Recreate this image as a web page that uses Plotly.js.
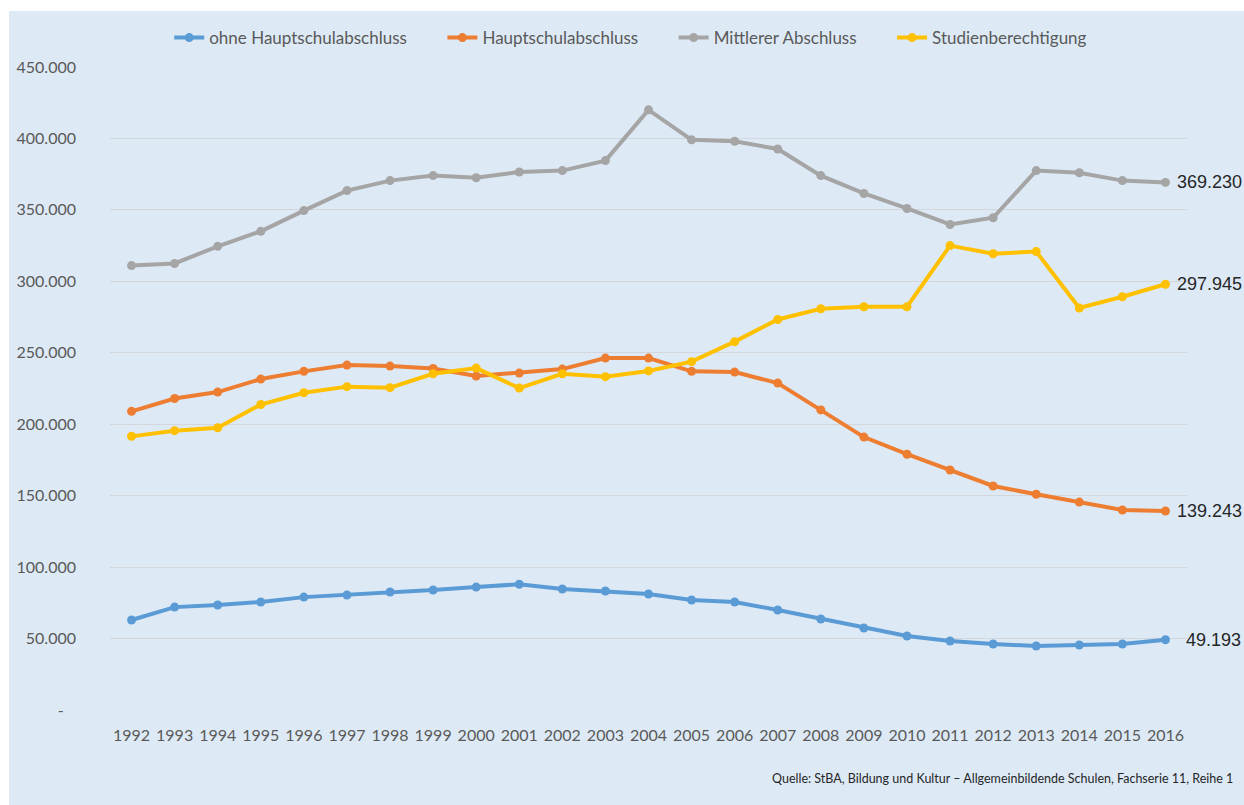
<!DOCTYPE html>
<html>
<head>
<meta charset="utf-8">
<script src="https://cdn.plot.ly/plotly-3.0.1.min.js"></script>
<style>
  html, body { margin: 0; padding: 0; background: #ffffff; }
  #chart { position: absolute; left: 9px; top: 11px; width: 1235px; height: 794px; }
</style>
</head>
<body>
<div id="chart"></div>
<script>
// ---- data ----
const years = [1992,1993,1994,1995,1996,1997,1998,1999,2000,2001,2002,2003,2004,2005,2006,2007,2008,2009,2010,2011,2012,2013,2014,2015,2016];

const seriesNames = ["ohne Hauptschulabschluss", "Hauptschulabschluss", "Mittlerer Abschluss", "Studienberechtigung"];

const ohneHauptschulabschluss = [63000,72000,73500,75600,79000,80500,82600,84000,86000,88000,84700,83300,81200,77000,75600,70000,63700,57400,51800,48300,46200,44800,45500,46200,49193];

const hauptschulabschluss = [209000,218000,222500,231600,237000,241400,240700,239000,233700,235800,238600,246300,246300,237000,236500,228800,210000,191000,179000,168000,156800,151000,145500,140000,139243];

const mittlererAbschluss = [311000,312500,324500,335000,349500,363500,370500,374000,372500,376500,377500,384500,420000,399000,398000,392600,374000,361500,351000,339800,344500,377500,376000,370500,369230];

const studienberechtigung = [191500,195500,197500,213800,222000,226300,225600,235300,239300,225300,235300,233300,237300,243800,257800,273300,280800,282200,282200,325000,319300,320800,281300,289200,297945];

const yTickVals = [0,50000,100000,150000,200000,250000,300000,350000,400000,450000];

const sourceText = "Quelle: StBA, Bildung und Kultur \u2013 Allgemeinbildende Schulen, Fachserie 11, Reihe 1";

// ---- styling ----
const colors = ["#5B9BD5", "#ED7D31", "#A5A5A5", "#FFC000"];
const allSeries = [ohneHauptschulabschluss, hauptschulabschluss, mittlererAbschluss, studienberechtigung];
const labelShift = [19, 10, 10, 10];
const legendPad = "\u00a0\u00a0\u00a0\u00a0\u00a0\u00a0\u00a0";

function fmtDE(v) {
  if (v === 0) return "-\u00a0\u00a0\u00a0";
  const s = Math.round(v).toString();
  return s.replace(/\B(?=(\d{3})+(?!\d))/g, ".");
}

const traces = allSeries.map((vals, i) => ({
  type: "scatter",
  mode: "lines+markers",
  name: seriesNames[i] + legendPad,
  x: years,
  y: vals,
  line: { color: colors[i], width: 4 },
  marker: { color: colors[i], size: 9, symbol: "circle" },
  hoverinfo: "x+y+name"
}));

const annotations = allSeries.map((vals, i) => ({
  x: years[years.length - 1],
  y: vals[vals.length - 1],
  xref: "x", yref: "y",
  text: fmtDE(vals[vals.length - 1]),
  showarrow: false,
  xanchor: "left",
  yanchor: "middle",
  xshift: labelShift[i],
  font: { family: "Liberation Sans, Arial, sans-serif", size: 18, color: "#262626" }
}));

annotations.push({
  x: 1, y: 0,
  xref: "paper", yref: "paper",
  text: sourceText,
  showarrow: false,
  xanchor: "right",
  yanchor: "middle",
  xshift: 48,
  yshift: -68,
  font: { family: "Lato, sans-serif", size: 12.5, color: "#262626" }
});

const bg = "#DDEAF6";
const tickFont = { family: "Lato, sans-serif", size: 16, color: "#595959" };

const layout = {
  width: 1235,
  height: 794,
  paper_bgcolor: bg,
  plot_bgcolor: bg,
  margin: { l: 101, r: 57, t: 56, b: 95, pad: 0, autoexpand: false },
  showlegend: true,
  legend: {
    orientation: "h",
    x: 0.055, xanchor: "left",
    y: 1.045, yanchor: "middle",
    font: { family: "Lato, sans-serif", size: 17, color: "#595959" },
    bgcolor: "rgba(0,0,0,0)",
    traceorder: "normal"
  },
  xaxis: {
    range: [1991.5, 2016.5],
    tickvals: years,
    ticktext: years.map(String),
    showgrid: false,
    zeroline: false,
    showline: false,
    ticks: "",
    tickfont: tickFont,
    ticklabelstandoff: 14,
    fixedrange: true,
    automargin: false
  },
  yaxis: {
    range: [0, 450000],
    tickvals: yTickVals,
    ticktext: yTickVals.map(fmtDE),
    showgrid: true,
    gridcolor: "#D3D6DA",
    gridwidth: 1,
    zeroline: false,
    showline: false,
    ticks: "",
    tickfont: tickFont,
    ticklabelstandoff: 33,
    fixedrange: true,
    automargin: false
  },
  annotations: annotations
};

Plotly.newPlot("chart", traces, layout, { displayModeBar: false, staticPlot: true });
</script>
</body>
</html>
